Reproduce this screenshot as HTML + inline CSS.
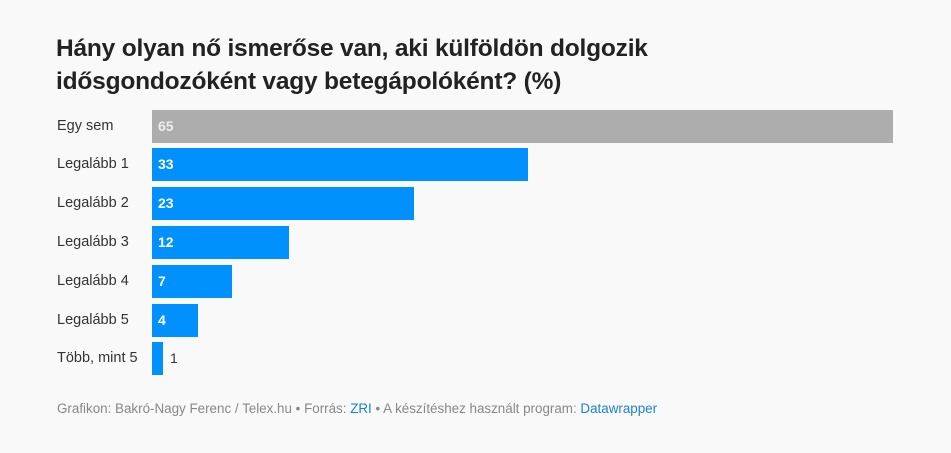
<!DOCTYPE html>
<html><head><meta charset="utf-8"><style>
body{margin:0;width:951px;height:453px;background:#f9f9f9;font-family:"Liberation Sans",sans-serif;position:relative;overflow:hidden}
.t{position:absolute;left:56px;top:32px;font-size:24.5px;font-weight:bold;color:#222;line-height:33px;letter-spacing:-0.2px}
.l{position:absolute;left:57px;font-size:14.5px;color:#333}
.b{position:absolute;left:152px;height:33px;background:#0091ff}
.v{position:absolute;font-size:14px;font-weight:bold;color:#fff}
.f{position:absolute;left:57px;top:401px;font-size:13.4px;color:#888}
.f span{color:#1d81d0}
</style></head><body>
<div class="t">Hány olyan nő ismerőse van, aki külföldön dolgozik<br>idősgondozóként vagy betegápolóként? (%)</div>

<div class="l" style="top:118px">Egy sem</div>
<div class="b" style="top:110px;width:741px;background:#adadad"></div>
<div class="v" style="left:158px;top:118px;color:#eee">65</div>

<div class="l" style="top:156px">Legalább 1</div>
<div class="b" style="top:148px;width:376px"></div>
<div class="v" style="left:158px;top:156px">33</div>

<div class="l" style="top:195px">Legalább 2</div>
<div class="b" style="top:187px;width:262px"></div>
<div class="v" style="left:158px;top:195px">23</div>

<div class="l" style="top:234px">Legalább 3</div>
<div class="b" style="top:226px;width:137px"></div>
<div class="v" style="left:158px;top:234px">12</div>

<div class="l" style="top:273px">Legalább 4</div>
<div class="b" style="top:265px;width:80px"></div>
<div class="v" style="left:158px;top:273px">7</div>

<div class="l" style="top:312px">Legalább 5</div>
<div class="b" style="top:304px;width:46px"></div>
<div class="v" style="left:158px;top:312px">4</div>

<div class="l" style="top:350px">Több, mint 5</div>
<div class="b" style="top:342px;width:11px"></div>
<div class="v" style="left:170px;top:350px;color:#333;font-weight:normal">1</div>

<div class="f">Grafikon: Bakró-Nagy Ferenc / Telex.hu • Forrás: <span>ZRI</span> • A készítéshez használt program: <span>Datawrapper</span></div>
</body></html>
